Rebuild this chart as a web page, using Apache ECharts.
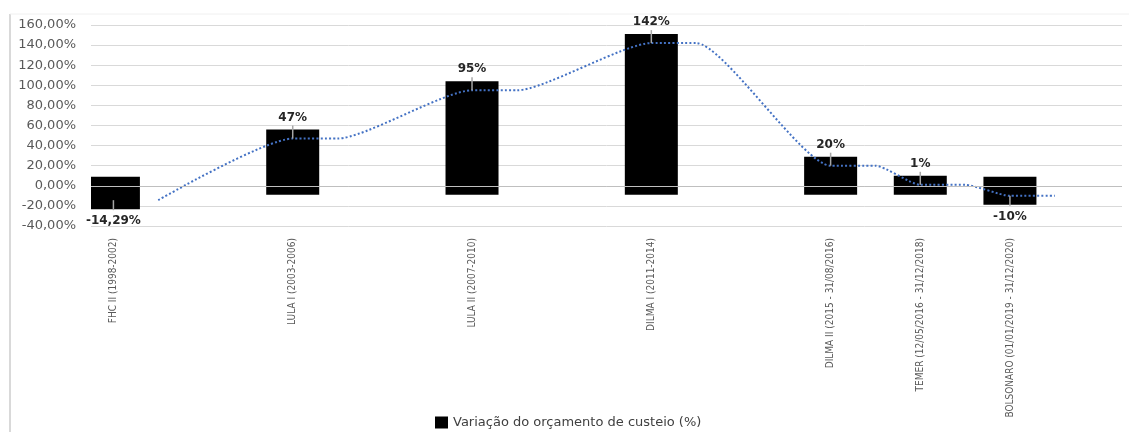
<!DOCTYPE html>
<html>
<head>
<meta charset="utf-8">
<script src="https://cdn.jsdelivr.net/npm/echarts@6/dist/echarts.min.js"></script>
<style>
  html, body { margin: 0; padding: 0; background: #fff; }
  #chart { width: 1129px; height: 432px; }
</style>
</head>
<body>
<div id="chart"></div>
<script>
// Mandatos presidenciais e variação do orçamento de custeio
const terms = [
  'FHC II (1998-2002)',
  'LULA I (2003-2006)',
  'LULA II (2007-2010)',
  'DILMA I (2011-2014)',
  'DILMA II (2015 - 31/08/2016)',
  'TEMER (12/05/2016 - 31/12/2018)',
  'BOLSONARO (01/01/2019 - 31/12/2020)'
];
const variation = [-14.29, 47, 95, 142, 20, 1, -10];
const seriesName = 'Variação do orçamento de custeio (%)';
const yMin = -40, yMax = 160, yStep = 20;

// Horizontal layout: the axis is divided in half-step slots; gaps between terms
const SLOT_GAPS = [4, 4, 4, 4, 2, 2];
const SLOT_COUNT = 23;
const slotOf = [0];
SLOT_GAPS.forEach((g, i) => slotOf.push(slotOf[i] + g));

const axisSlots = Array.from({ length: SLOT_COUNT }, () => '');
terms.forEach((t, i) => { axisSlots[slotOf[i]] = t; });

// Dotted trend: each term holds its value for half a step; it starts after the first term
const trend = new Array(SLOT_COUNT).fill(null);
variation.forEach((v, i) => {
  if (i > 0) trend[slotOf[i]] = v;
  trend[slotOf[i] + 1] = v;
});

const barData = variation.map((v, i) => [slotOf[i], v]);

const fmtPct = v => (Number.isInteger(v) ? String(v) : v.toFixed(2).replace('.', ',')) + '%';

const WIDE = '"DejaVu Sans", Verdana, sans-serif';
const NARROW = '"Liberation Sans Narrow", "DejaVu Sans Condensed", sans-serif';

const BAR_HALF = 26.5;   // half of the drawn bar width
const BAR_PAD = 9;       // thick outline beyond the value on both ends

function renderBar(params, api) {
  const slot = api.value(0);
  const v = api.value(1);
  const base = api.coord([slot, 0]);
  const end = api.coord([slot, v]);
  const left = Math.max(base[0] - BAR_HALF, params.coordSys.x);
  const right = base[0] + BAR_HALF;
  const y0 = Math.min(base[1], end[1]) - BAR_PAD;
  const y1 = Math.max(base[1], end[1]) + BAR_PAD;
  return {
    type: 'rect',
    shape: { x: left, y: y0, width: right - left, height: y1 - y0 },
    style: { fill: '#000000' }
  };
}

function renderLabel(params, api) {
  const slot = api.value(0);
  const v = api.value(1);
  const p = api.coord([slot, v]);
  const dir = v >= 0 ? -1 : 1;
  const leader = v >= 0 ? 13 : 10;
  return {
    type: 'group',
    children: [
      {
        type: 'line',
        shape: { x1: p[0], y1: p[1], x2: p[0], y2: p[1] + dir * leader },
        style: { stroke: '#a6a6a6', lineWidth: 1.5 }
      },
      {
        type: 'text',
        style: {
          x: p[0],
          y: p[1] + dir * 21,
          text: fmtPct(v),
          align: 'center',
          verticalAlign: 'middle',
          fill: '#262626',
          font: 'bold 12px ' + WIDE
        }
      }
    ]
  };
}

const chart = echarts.init(document.getElementById('chart'), null, { renderer: 'canvas' });

chart.setOption({
  animation: false,
  backgroundColor: '#ffffff',
  graphic: [
    { type: 'line', shape: { x1: 10, y1: 14, x2: 10, y2: 432 }, style: { stroke: '#d9d9d9', lineWidth: 2 }, silent: true },
    { type: 'line', shape: { x1: 10, y1: 14, x2: 1129, y2: 14 }, style: { stroke: '#f0f0f0', lineWidth: 1 }, silent: true }
  ],
  grid: { left: 91, right: 7, top: 25, bottom: 206, containLabel: false },
  legend: {
    data: [{ name: seriesName, icon: 'rect' }],
    left: 430,
    top: 411,
    itemWidth: 13,
    itemHeight: 12,
    selectedMode: false,
    textStyle: { fontFamily: WIDE, fontSize: 13, color: '#404040' }
  },
  xAxis: {
    type: 'category',
    data: axisSlots,
    boundaryGap: true,
    axisLine: { show: false },
    axisTick: { show: false },
    splitLine: { show: false },
    axisLabel: {
      interval: 0,
      rotate: 90,
      margin: 12,
      fontFamily: NARROW,
      fontSize: 10,
      color: '#595959'
    }
  },
  yAxis: {
    type: 'value',
    min: yMin,
    max: yMax,
    interval: yStep,
    axisLine: { show: false },
    axisTick: { show: false },
    splitLine: { lineStyle: { color: '#d9d9d9', width: 1 } },
    axisLabel: {
      margin: 15,
      fontFamily: WIDE,
      fontSize: 13,
      color: '#595959',
      formatter: v => v.toFixed(2).replace('.', ',') + '%'
    }
  },
  series: [
    {
      name: seriesName,
      type: 'custom',
      renderItem: renderBar,
      data: barData,
      encode: { x: 0, y: 1 },
      itemStyle: { color: '#000000' },
      z: 2
    },
    {
      name: 'tendência',
      type: 'line',
      data: trend,
      connectNulls: true,
      showSymbol: false,
      smooth: 0.2,
      smoothMonotone: 'x',
      lineStyle: { color: '#4472C4', width: 2, type: [2, 2.2] },
      z: 3,
      markLine: {
        silent: true,
        symbol: ['none', 'none'],
        label: { show: false },
        lineStyle: { color: '#bfbfbf', width: 1, type: 'solid' },
        data: [{ yAxis: 0 }]
      }
    },
    {
      name: 'rótulos',
      type: 'custom',
      renderItem: renderLabel,
      data: barData,
      encode: { x: 0, y: 1 },
      z: 6
    }
  ]
});
</script>
</body>
</html>
